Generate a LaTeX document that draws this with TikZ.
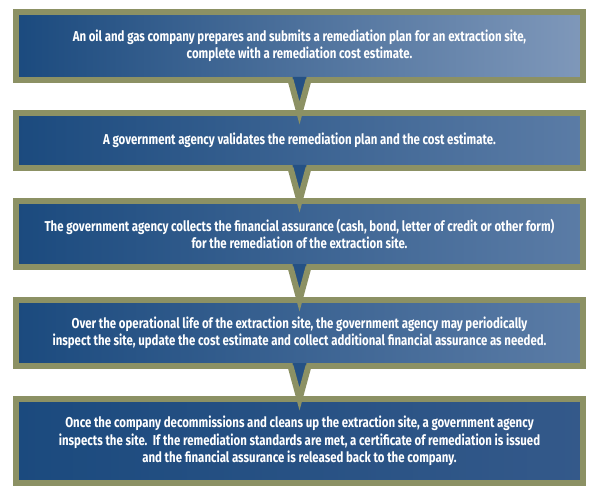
\documentclass[tikz,border=0pt]{standalone}
\usepackage{fontspec}
\setmainfont{Fira Sans}[FakeStretch=0.80]
\usetikzlibrary{positioning,calc,shadows}

\definecolor{stepborder}{HTML}{8C9164}
\definecolor{stepdark}{HTML}{1B4A7E}
\definecolor{steplight}{HTML}{5B7CA6}
\definecolor{steppale}{HTML}{7F98BA}
\definecolor{stepdeep}{HTML}{34598A}

\begin{document}
\begin{tikzpicture}[x=1pt, y=-1pt,
    node distance=27pt,
    every node/.style={text=white, align=center, font=\bfseries\fontsize{14.3}{17.5}\selectfont},
    stepbox/.style={draw=stepborder, line width=6pt, minimum width=567pt,
      left color=stepdark, middle color=stepdark!82!#1, right color=#1,
      drop shadow={shadow xshift=2pt, shadow yshift=-3pt, opacity=.35, fill=black}},
    stepbox/.default=steplight,
    tabfill/.style={fill=stepdark!85!steplight},
    tabline/.style={draw=stepborder, line width=6pt, line join=miter},
    ]
  \useasboundingbox (0,0) rectangle (602,497);

  \node[stepbox=steppale, minimum height=68pt] (plan) at (299.5,46)
    {An oil and gas company prepares and submits a remediation plan for an extraction site,\\
     complete with a remediation cost estimate.};
  \node[stepbox, minimum height=55pt, below=of plan] (validate)
    {A government agency validates the remediation plan and the cost estimate.};
  \node[stepbox, minimum height=66pt, below=of validate] (collect)
    {The government agency collects the financial assurance (cash, bond, letter of credit or other form)\\
     for the remediation of the extraction site.};
  \node[stepbox, minimum height=66pt, below=of collect] (inspect)
    {Over the operational life of the extraction site, the government agency may periodically\\
     inspect the site, update the cost estimate and collect additional financial assurance as needed.};
  \node[stepbox=stepdeep, minimum height=84pt, below=of inspect] (release)
    {Once the company decommissions and cleans up the extraction site, a government agency\\
     inspects the site.\ \ If the remediation standards are met, a certificate of remediation is issued\\
     and the financial assurance is released back to the company.};

  % pointers between the steps
  \foreach \a/\b in {plan/validate, validate/collect, collect/inspect, inspect/release} {
    \fill[tabfill] ($(\a.south)+(-7,-6)$) -- ($(\a.south)+(7,-6)$) -- ($(\b.north)+(0,3)$) -- cycle;
    \draw[tabline] ($(\a.south)+(-9,-3)$) -- ($(\b.north)+(0,3)$) -- ($(\a.south)+(9,-3)$);
  }
\end{tikzpicture}
\end{document}
